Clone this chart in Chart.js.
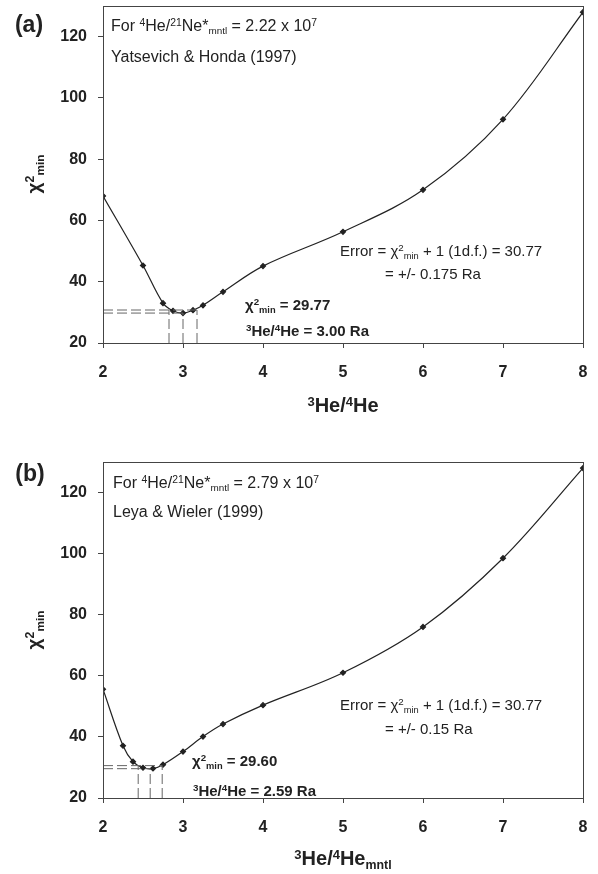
<!DOCTYPE html>
<html lang="en">
  <head>
    <meta charset="UTF-8" />
    <title>Chi-square minimum vs 3He/4He</title>
    <script src="https://cdn.jsdelivr.net/npm/chart.js@4.4.0/dist/chart.umd.min.js"></script>
    <style>
      body {
        margin: 0;
        background: #fff;
        font-family: "Liberation Sans", Arial, sans-serif;
        color: #222;
      }
      #page {
        position: relative;
        width: 598px;
        height: 874px;
      }
      .panel {
        position: absolute;
        left: 0;
        width: 598px;
      }
      #panelA { top: 0; height: 430px; }
      #panelB { top: 430px; height: 444px; }
      .note {
        position: absolute;
        white-space: nowrap;
        line-height: 1;
        font-size: 16px;
        transform: translateY(-50%);
      }
      .small { font-size: 15px; }
      .bold { font-weight: bold; }
      .tag { font-size: 23px; font-weight: bold; transform: translate(-50%, -50%); }
      .xtitle { font-size: 20px; font-weight: bold; transform: translate(-50%, -50%); }
      .ytitle { font-size: 19px; font-weight: bold; transform: translate(-50%, -50%) rotate(-90deg); }
      .up { position: relative; top: -0.5em; font-size: 0.65em; }
      .dn { position: relative; top: 0.35em; font-size: 0.62em; }
    </style>
  </head>
  <body>
    <div id="page">
      <div class="panel" id="panelA"><canvas id="chartA"></canvas></div>
      <div class="panel" id="panelB"><canvas id="chartB"></canvas></div>

      <!-- panel (a) text -->
      <div class="note tag" style="left:29px; top:24px">(a)</div>
      <div class="note" style="left:111px; top:26px">For <span class="up">4</span>He/<span class="up">21</span>Ne*<span class="dn">mntl</span> = 2.22 x 10<span class="up">7</span></div>
      <div class="note" style="left:111px; top:57px">Yatsevich &amp; Honda (1997)</div>
      <div class="note small" style="left:340px; top:251px">Error = &chi;<span class="up">2</span><span class="dn">min</span> + 1 (1d.f.) = 30.77</div>
      <div class="note small" style="left:385px; top:273px">= +/- 0.175 Ra</div>
      <div class="note small bold" style="left:245px; top:305px">&chi;<span class="up">2</span><span class="dn">min</span> = 29.77</div>
      <div class="note small bold" style="left:246px; top:330px"><span class="up">3</span>He/<span class="up">4</span>He = 3.00 Ra</div>
      <div class="note ytitle" style="left:33px; top:174px">&chi;<span class="up">2</span><span class="dn">min</span></div>
      <div class="note xtitle" style="left:343px; top:405px"><span class="up">3</span>He/<span class="up">4</span>He</div>

      <!-- panel (b) text -->
      <div class="note tag" style="left:30px; top:473px">(b)</div>
      <div class="note" style="left:113px; top:483px">For <span class="up">4</span>He/<span class="up">21</span>Ne*<span class="dn">mntl</span> = 2.79 x 10<span class="up">7</span></div>
      <div class="note" style="left:113px; top:512px">Leya &amp; Wieler (1999)</div>
      <div class="note small" style="left:340px; top:705px">Error = &chi;<span class="up">2</span><span class="dn">min</span> + 1 (1d.f.) = 30.77</div>
      <div class="note small" style="left:385px; top:728px">= +/- 0.15 Ra</div>
      <div class="note small bold" style="left:192px; top:761px">&chi;<span class="up">2</span><span class="dn">min</span> = 29.60</div>
      <div class="note small bold" style="left:193px; top:790px"><span class="up">3</span>He/<span class="up">4</span>He = 2.59 Ra</div>
      <div class="note ytitle" style="left:33px; top:630px">&chi;<span class="up">2</span><span class="dn">min</span></div>
      <div class="note xtitle" style="left:343px; top:858px"><span class="up">3</span>He/<span class="up">4</span>He<span class="dn">mntl</span></div>
    </div>

    <script>
      // values
      const ratioA = [2, 2.5, 2.75, 2.875, 3.0, 3.125, 3.25, 3.5, 4, 5, 6, 7, 8];
      const chiA = [68.0, 45.3, 33.0, 30.5, 29.77, 30.7, 32.3, 36.7, 45.1, 56.3, 70.0, 93.0, 128.0];
      const bestA = [3.0, 29.77];
      const boundsA = [2.825, 3.175];
      const errLevelA = 30.77;

      const ratioB = [2, 2.25, 2.375, 2.5, 2.625, 2.75, 3, 3.25, 3.5, 4, 5, 6, 7, 8];
      const chiB = [55.6, 37.1, 31.9, 29.9, 29.65, 30.9, 35.2, 40.1, 44.2, 50.4, 61.0, 76.0, 98.5, 128.0];
      const bestB = [2.59, 29.6];
      const boundsB = [2.44, 2.74];
      const errLevelB = 30.6;

      const xTicks = [2, 3, 4, 5, 6, 7, 8];
      const yTicks = [20, 40, 60, 80, 100, 120];
      const yMax = 130;

      const tickFont = { family: "'Liberation Sans', Arial, sans-serif", size: 16, weight: "bold" };

      // box around the plot area
      const framePlugin = {
        id: "frame",
        afterDraw(chart) {
          const a = chart.chartArea;
          const ctx = chart.ctx;
          ctx.save();
          ctx.strokeStyle = "#444";
          ctx.lineWidth = 1;
          ctx.strokeRect(Math.round(a.left) + 0.5, Math.round(a.top) + 0.5,
            Math.round(a.right - a.left), Math.round(a.bottom - a.top));
          ctx.restore();
        },
      };

      function dashed(points) {
        return {
          data: points.map((p) => ({ x: p[0], y: p[1] })),
          showLine: true,
          borderColor: "#666",
          borderWidth: 1,
          borderDash: [10, 4],
          pointRadius: 0,
          tension: 0,
        };
      }

      function makeChart(id, xs, ys, best, bounds, level, padTop, axisH) {
        const yMin = yTicks[0];
        const datasets = [
          dashed([[xTicks[0], level], [bounds[1], level]]),
          dashed([[xTicks[0], best[1]], [best[0], best[1]]]),
          dashed([[bounds[0], yMin], [bounds[0], level]]),
          dashed([[best[0], yMin], [best[0], best[1]]]),
          dashed([[bounds[1], yMin], [bounds[1], level]]),
          {
            data: xs.map((x, i) => ({ x: x, y: ys[i] })),
            showLine: true,
            borderColor: "#222",
            borderWidth: 1.2,
            tension: 0.35,
            pointStyle: "rectRot",
            pointRadius: 2.5,
            pointBackgroundColor: "#222",
            pointBorderColor: "#222",
          },
        ];

        return new Chart(document.getElementById(id), {
          type: "scatter",
          data: { datasets: datasets },
          options: {
            responsive: true,
            maintainAspectRatio: false,
            animation: false,
            layout: { padding: { top: padTop, right: 15, left: 0, bottom: 0 } },
            plugins: { legend: { display: false }, tooltip: { enabled: false } },
            scales: {
              x: {
                type: "linear",
                min: xTicks[0],
                max: xTicks[xTicks.length - 1],
                afterBuildTicks: (s) => { s.ticks = xTicks.map((v) => ({ value: v })); },
                afterFit: (s) => {
                  s.height = axisH;
                  s.paddingLeft = 0;
                  s.paddingRight = 0;
                },
                ticks: { font: tickFont, color: "#222", padding: 15 },
                grid: { drawOnChartArea: false, tickLength: 5, color: "#444" },
                border: { color: "#444", width: 1 },
              },
              y: {
                type: "linear",
                min: yMin,
                max: yMax,
                afterBuildTicks: (s) => { s.ticks = yTicks.map((v) => ({ value: v })); },
                afterFit: (s) => {
                  s.width = 103;
                  s.paddingTop = 0;
                  s.paddingBottom = 0;
                },
                ticks: { font: tickFont, color: "#222", padding: 11 },
                grid: { drawOnChartArea: false, tickLength: 5, color: "#444" },
                border: { color: "#444", width: 1 },
              },
            },
          },
          plugins: [framePlugin],
        });
      }

      makeChart("chartA", ratioA, chiA, bestA, boundsA, errLevelA, 6, 87);
      makeChart("chartB", ratioB, chiB, bestB, boundsB, errLevelB, 32, 76);
    </script>
  </body>
</html>
